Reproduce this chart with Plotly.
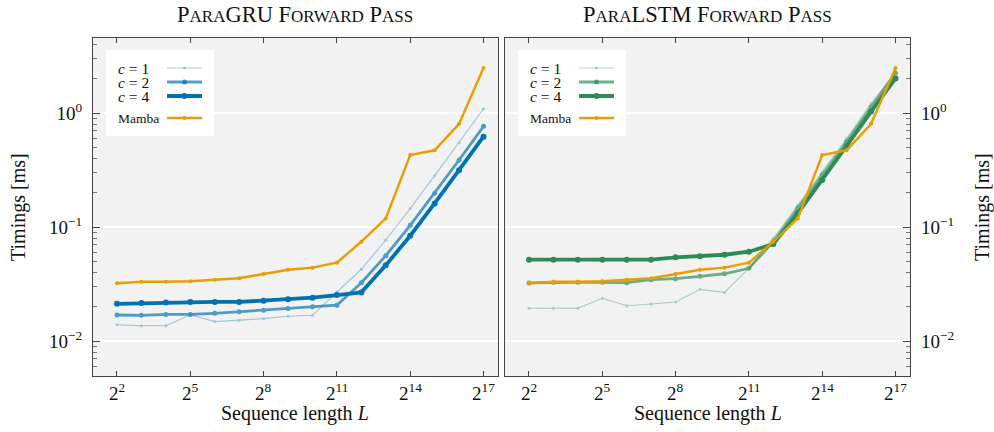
import math
import plotly.graph_objects as go

# ---------------- data ----------------
seq_len = [2 ** e for e in range(2, 18)]

mamba = [0.0321, 0.0331, 0.0331, 0.0334, 0.0345, 0.0355, 0.0387, 0.0422,
         0.0440, 0.0486, 0.0743, 0.119, 0.428, 0.471, 0.805, 2.48]

gru_c1 = [0.0139, 0.0136, 0.0136, 0.0170, 0.0148, 0.0152, 0.0157, 0.0165,
          0.0168, 0.0269, 0.0426, 0.0769, 0.145, 0.282, 0.548, 1.089]
gru_c2 = [0.0169, 0.0168, 0.0171, 0.0171, 0.0175, 0.0181, 0.0186, 0.0193,
          0.0200, 0.0206, 0.0324, 0.0560, 0.1035, 0.198, 0.387, 0.764]
gru_c4 = [0.0212, 0.0215, 0.0218, 0.0220, 0.0220, 0.0220, 0.0226, 0.0233,
          0.0240, 0.0253, 0.0267, 0.0461, 0.0839, 0.161, 0.314, 0.620]

lstm_c1 = [0.0194, 0.0194, 0.0194, 0.0237, 0.0204, 0.0211, 0.0220, 0.0284,
           0.0267, 0.0434, 0.0796, 0.156, 0.306, 0.600, 1.21, 2.30]
lstm_c2 = [0.0323, 0.0327, 0.0327, 0.0327, 0.0325, 0.0345, 0.0352, 0.0369,
           0.0389, 0.0434, 0.0743, 0.146, 0.286, 0.560, 1.13, 2.23]
lstm_c4 = [0.0517, 0.0517, 0.0517, 0.0517, 0.0517, 0.0517, 0.0542, 0.0553,
           0.0571, 0.0607, 0.0710, 0.132, 0.258, 0.514, 1.03, 2.01]

x_tickvals = [4, 32, 256, 2048, 16384, 131072]
x_ticktext = ["2<sup>2</sup>", "2<sup>5</sup>", "2<sup>8</sup>",
              "2<sup>11</sup>", "2<sup>14</sup>", "2<sup>17</sup>"]
y_tickvals = [0.01, 0.1, 1]
y_ticktext = ["10<sup>−2</sup>", "10<sup>−1</sup>", "10<sup>0</sup>"]

# ---------------- styles ----------------
BLUE = "#0072B2"
GREEN = "#2E8B57"
ORANGE = "#E69F00"
FONT = "Liberation Serif, Times New Roman, serif"
W, H = 994, 432

styles = {  # label: (width, marker size, opacity)
    "c1": (1.1, 3, 0.35),
    "c2": (2.8, 5, 0.68),
    "c4": (3.8, 6, 1.0),
    "m": (2.4, 4, 1.0),
}


def px_x(p):
    return p / W


def px_y(p):
    return 1 - p / H


fig = go.Figure()


def add(x, y, color, key, xa, ya):
    w, ms, op = styles[key]
    fig.add_trace(go.Scatter(
        x=x, y=y, mode="lines+markers", xaxis=xa, yaxis=ya,
        line=dict(color=color, width=w), marker=dict(color=color, size=ms, symbol="circle"),
        opacity=op, showlegend=False, hoverinfo="skip"))


add(seq_len, gru_c1, BLUE, "c1", "x", "y")
add(seq_len, gru_c2, BLUE, "c2", "x", "y")
add(seq_len, gru_c4, BLUE, "c4", "x", "y")
add(seq_len, mamba, ORANGE, "m", "x", "y")

add(seq_len, lstm_c1, GREEN, "c1", "x2", "y2")
add(seq_len, lstm_c2, GREEN, "c2", "x2", "y2")
add(seq_len, lstm_c4, GREEN, "c4", "x2", "y2")
add(seq_len, mamba, ORANGE, "m", "x2", "y2")

LINE_COL = "#454545"
xrange = [0.3065, 5.296]
yrange = [-2.307, 0.658]
minor_vals = [m * 10 ** d for d in (-3, -2, -1, 0) for m in range(2, 10)]

xcommon = dict(type="log", range=xrange, tickmode="array", tickvals=x_tickvals,
               showticklabels=False, showgrid=False, zeroline=False, ticks="inside",
               ticklen=5, tickwidth=1, tickcolor=LINE_COL, showline=True, linecolor=LINE_COL,
               linewidth=1.3, mirror="ticks")
ycommon = dict(type="log", range=yrange, tickmode="array", tickvals=y_tickvals,
               ticktext=y_ticktext, showgrid=True, gridcolor="white", gridwidth=2,
               zeroline=False, ticks="inside", ticklen=7, tickwidth=1, tickcolor=LINE_COL,
               showline=True, linecolor=LINE_COL, linewidth=1.3, mirror=True,
               tickfont=dict(family=FONT, size=19, color="#111"), ticklabelstandoff=6,
               minor=dict(tickmode="array", tickvals=minor_vals, ticks="inside", ticklen=4,
                          tickwidth=1, tickcolor="#777", showgrid=False))

dom_y = [px_y(376), px_y(38)]
fig.update_layout(
    width=W, height=H, margin=dict(l=0, r=0, t=0, b=0),
    paper_bgcolor="white", plot_bgcolor="#F2F2F2", showlegend=False,
    xaxis=dict(domain=[px_x(93), px_x(498)], anchor="y", **xcommon),
    yaxis=dict(domain=dom_y, anchor="x", side="left", **ycommon),
    xaxis2=dict(domain=[px_x(505), px_x(910)], anchor="y2", **xcommon),
    yaxis2=dict(domain=dom_y, anchor="x2", side="right", **ycommon),
)

# x tick labels placed on the axis scale (log axes take log10 positions)
for xref in ("x", "x2"):
    for v, t in zip(x_tickvals, x_ticktext):
        fig.add_annotation(x=math.log10(v), xref=xref, y=px_y(392), yref="paper",
                           text=t, showarrow=False, xanchor="center", yanchor="middle",
                           font=dict(family=FONT, size=19, color="#111"))

# ---------------- titles ----------------
sc = 'style="font-size:17px"'
titles = [
    (295, f'P<span {sc}>ARA</span>GRU F<span {sc}>ORWARD</span> P<span {sc}>ASS</span>'),
    (707.5, f'P<span {sc}>ARA</span>LSTM F<span {sc}>ORWARD</span> P<span {sc}>ASS</span>'),
]
for cx, t in titles:
    fig.add_annotation(x=px_x(cx), y=px_y(15), xref="paper", yref="paper", text=t,
                       showarrow=False, xanchor="center", yanchor="middle",
                       font=dict(family=FONT, size=22.5, color="#111"))

for cx in (295, 707.5):
    fig.add_annotation(x=px_x(cx), y=px_y(413), xref="paper", yref="paper",
                       text="Sequence length <i>L</i>", showarrow=False,
                       xanchor="center", yanchor="middle",
                       font=dict(family=FONT, size=20, color="#111"))

for cx in (18, 982):
    fig.add_annotation(x=px_x(cx), y=px_y(207), xref="paper", yref="paper",
                       text="Timings [ms]", showarrow=False, textangle=-90,
                       xanchor="center", yanchor="middle",
                       font=dict(family=FONT, size=20, color="#111"))

# ---------------- legends (text left, sample right) ----------------
legend_entries = [  # (label, style key, y px, font size)
    ("<i>c</i> = 1", "c1", 68, 15.5),
    ("<i>c</i> = 2", "c2", 82, 15.5),
    ("<i>c</i> = 4", "c4", 96, 15.5),
    ("Mamba", "m", 118, 13.5),
]
for left, color in ((93, BLUE), (505, GREEN)):
    bx0, bx1 = left + 13, left + 121
    fig.add_shape(type="rect", xref="paper", yref="paper",
                  x0=px_x(bx0), x1=px_x(bx1), y0=px_y(136), y1=px_y(50),
                  fillcolor="white", line=dict(width=0), layer="above")
    for label, key, ypx, fs in legend_entries:
        col = ORANGE if key == "m" else color
        w, ms, op = styles[key]
        fig.add_annotation(x=px_x(left + 23), y=px_y(ypx), xref="paper", yref="paper",
                           text=label, showarrow=False, xanchor="left", yanchor="middle",
                           font=dict(family=FONT, size=fs, color="#111"))
        fig.add_shape(type="line", xref="paper", yref="paper",
                      x0=px_x(left + 74), x1=px_x(left + 109), y0=px_y(ypx), y1=px_y(ypx),
                      line=dict(color=col, width=w), opacity=op, layer="above")
        r = ms / 2
        mx = left + 91.5
        fig.add_shape(type="circle", xref="paper", yref="paper",
                      x0=px_x(mx - r), x1=px_x(mx + r), y0=px_y(ypx + r), y1=px_y(ypx - r),
                      fillcolor=col, line=dict(width=0), opacity=op, layer="above")

fig.write_html("out.html")
